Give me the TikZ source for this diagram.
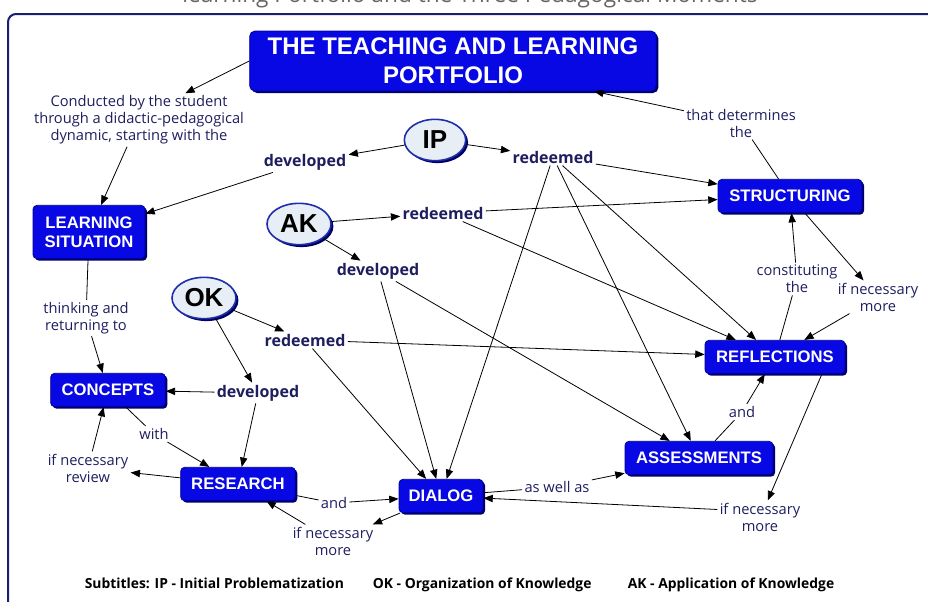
\documentclass[tikz,border=0pt]{standalone}
\usepackage{fontspec}
\setmainfont{Open Sans}
\newfontfamily\boxfont{Liberation Sans}
\usepackage{tikz}
\usetikzlibrary{shapes.geometric,arrows.meta,shadows,positioning}

\definecolor{boxblue}{RGB}{8,8,228}
\definecolor{boxedge}{RGB}{0,0,150}
\definecolor{boxshade}{RGB}{0,0,105}
\definecolor{ovalfill}{RGB}{232,238,246}
\definecolor{ovaledge}{RGB}{30,45,170}
\definecolor{linktext}{RGB}{30,30,95}
\definecolor{framecol}{RGB}{25,30,110}

\tikzset{
  concept/.style={draw=boxedge, fill=boxblue, text=white, rounded corners=3pt,
    inner xsep=7pt, minimum height=25pt, align=center,
    font=\boxfont\bfseries\fontsize{12.5}{14.5}\selectfont,
    drop shadow={shadow xshift=1.5pt, shadow yshift=-1.5pt, fill=boxshade, opacity=1}},
  moment/.style={ellipse, draw=ovaledge, line width=1.2pt, fill=ovalfill,
    minimum width=46pt, minimum height=31pt, inner sep=0pt,
    font=\boxfont\bfseries\fontsize{19.5}{20}\selectfont,
    drop shadow={shadow xshift=1.8pt, shadow yshift=-1.8pt, fill=boxshade, opacity=1}},
  link/.style={text=linktext, align=center, inner sep=1.5pt,
    font=\fontsize{11}{12.75}\selectfont},
  verb/.style={text=linktext, inner sep=1.5pt, font=\bfseries\fontsize{12}{14}\selectfont},
  legend/.style={anchor=base west, font=\bfseries\fontsize{10.4}{12}\selectfont}
}

\begin{document}
\begin{tikzpicture}[->, >={Triangle[length=7pt,width=5.5pt]}, line width=0.6pt, x=0.75pt, y=-0.75pt]
    \useasboundingbox (0,0) rectangle (928,601);
    \node[anchor=base, text=black!60, font=\fontsize{17}{19}\selectfont] (caption) at (470,2) {learning Portfolio and the Three Pedagogical Moments};
    \draw[-, framecol, line width=1.5pt, rounded corners=6pt] (8,640) |- (960,14);

    \node[concept, minimum width=305pt, minimum height=45pt, rounded corners=4pt,
      font=\boxfont\bfseries\fontsize{18}{22}\selectfont] (tlp) at (453,61) {THE TEACHING AND LEARNING\\PORTFOLIO};
    \node[link] (cond) at (139,120) {Conducted by the student\\through a didactic-pedagogical\\dynamic, starting with the};
    \node[concept, minimum width=84pt, minimum height=40pt] (situation) at (89,232) {LEARNING\\SITUATION};
    \node[moment] (ip) at (435,140) {IP};
    \node[verb] (ipdev) at (305,162) {developed};
    \node[verb] (ipred) at (553,157) {redeemed};
    \node[link] (det) at (741,123) {that determines\\the};
    \node[concept, minimum width=108pt] (struct) at (790,196) {STRUCTURING};
    \node[moment, minimum width=48pt] (ak) at (299,224) {AK};
    \node[verb] (akred) at (443,213) {redeemed};
    \node[verb] (akdev) at (378,271) {developed};
    \node[moment, minimum width=48pt] (ok) at (204,298) {OK};
    \node[verb] (okred) at (305,340) {redeemed};
    \node[verb] (okdev) at (258,393) {developed};
    \node[link] (think) at (86,318) {thinking and\\returning to};
    \node[concept, minimum width=86pt] (concepts) at (108,390) {CONCEPTS};
    \node[link] (with) at (154,434) {with};
    \node[link] (review) at (88,468) {if necessary\\review};
    \node[concept, minimum width=86pt] (research) at (238,484) {RESEARCH};
    \node[link] (andrd) at (334,503) {and};
    \node[link] (moredia) at (333,541) {if necessary\\more};
    \node[concept, minimum width=63pt] (dialog) at (441,496) {DIALOG};
    \node[link] (aswell) at (557,487) {as well as};
    \node[concept, minimum width=111pt] (assess) at (699,458) {ASSESSMENTS};
    \node[link] (andar) at (742,412) {and};
    \node[concept, minimum width=105pt] (refl) at (775,357) {REFLECTIONS};
    \node[link] (constit) at (797,279) {constituting\\the};
    \node[link] (morestr) at (878,297) {if necessary\\more};
    \node[link] (morerefl) at (760,517) {if necessary\\more};

    \node[legend] (legip) at (80,588) {Subtitles: IP - Initial Problematization};
    \node[legend] (legok) at (368,588) {OK - Organization of Knowledge};
    \node[legend] (legak) at (623,588) {AK - Application of Knowledge};

    \path
    (tlp.west) edge (cond.30)
    (cond) edge (situation)
    (ip) edge (ipdev)
    (ipdev) edge (situation)
    (ip) edge (ipred)
    (ipred) edge (struct)
    (ipred) edge (dialog)
    (ipred) edge (assess)
    (ipred) edge (refl)
    (ak) edge (akred)
    (akred) edge (struct)
    (akred) edge (refl)
    (ak) edge (akdev)
    (akdev) edge (dialog)
    (akdev) edge (assess)
    (ok) edge (okred)
    (okred) edge (refl)
    (okred) edge (dialog)
    (ok) edge (okdev)
    (okdev) edge (concepts)
    (okdev) edge (research)
    (situation) edge[-] (think)
    (think) edge (concepts)
    (concepts) edge[-] (with)
    (with) edge (research)
    (research) edge (review)
    (review) edge (concepts)
    (research) edge[-] (andrd)
    (andrd) edge (dialog)
    (dialog) edge (moredia)
    (moredia) edge (research)
    (dialog) edge[-] (aswell)
    (aswell) edge (assess)
    (assess) edge[-] (andar)
    (andar) edge (refl)
    (refl.-20) edge (morerefl.65)
    (morerefl.170) edge (dialog)
    (refl) edge[-] (constit)
    (constit) edge (struct)
    (struct) edge (morestr)
    (morestr) edge (refl)
    (struct) edge[-] (det)
    (det) edge (tlp);
\end{tikzpicture}
\end{document}
